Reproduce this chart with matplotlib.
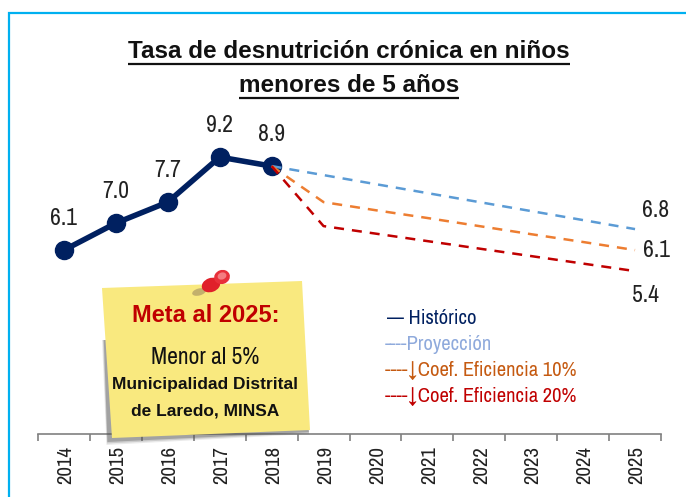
import logging
import matplotlib
matplotlib.use("Agg")
import matplotlib.pyplot as plt
from matplotlib.patches import Polygon, Ellipse

logging.getLogger("matplotlib.font_manager").setLevel(logging.ERROR)

years = [2014, 2015, 2016, 2017, 2018, 2019, 2020, 2021, 2022, 2023, 2024, 2025]
hist_years = [2014, 2015, 2016, 2017, 2018]
hist_vals = [6.1, 7.0, 7.7, 9.2, 8.9]
proy_years = [2018, 2019, 2020, 2021, 2022, 2023, 2024, 2025]
proy_vals = [8.9, 8.6, 8.3, 8.0, 7.7, 7.4, 7.1, 6.8]
coef10_vals = [8.9, 7.7, 7.43, 7.17, 6.9, 6.63, 6.37, 6.1]
coef20_vals = [8.9, 6.9, 6.65, 6.4, 6.15, 5.9, 5.65, 5.4]

plt.rcParams["font.family"] = ["Archivo Narrow", "Liberation Sans", "DejaVu Sans"]
TEXT = "#222222"
BOLD = ["Liberation Sans", "DejaVu Sans"]

W, H = 686, 497
fig = plt.figure(figsize=(W / 100, H / 100), dpi=100)

ax = fig.add_axes([38 / W, (H - 434) / H, 623 / W, 420 / H])
ax.set_xlim(2013.5, 2025.5)
ax.set_ylim(-0.03, 13.97)
ax.patch.set_alpha(0)
for s in ["top", "left", "right"]:
    ax.spines[s].set_visible(False)
ax.spines["bottom"].set_color("#808080")
ax.spines["bottom"].set_linewidth(1.2)
ax.set_yticks([])
ax.set_xticks([y - 0.5 for y in years] + [2025.5])
ax.set_xticklabels([])
ax.tick_params(axis="x", direction="out", length=5, width=1.2, color="#808080")
for y in years:
    ax.annotate(str(y), xy=(y, 0), xytext=(2, -13), textcoords="offset pixels",
                rotation=90, ha="center", va="top", fontsize=15, color=TEXT,
                annotation_clip=False)

dash = (0, (4, 3.2))
ax.plot(proy_years, proy_vals, color="#5B9BD5", lw=1.8, ls=dash, zorder=3)
ax.plot(proy_years, coef10_vals, color="#ED7D31", lw=1.8, ls=dash, zorder=3)
ax.plot(proy_years, coef20_vals, color="#C00000", lw=1.8, ls=dash, zorder=3)
ax.plot(hist_years, hist_vals, color="#002060", lw=4, marker="o", ms=13, zorder=2)

for x, v in zip(hist_years, hist_vals):
    ax.annotate(f"{v:.1f}", xy=(x, v), xytext=(0, 32), textcoords="offset pixels",
                ha="center", va="center", fontsize=17, color=TEXT)
ax.annotate("6.8", xy=(2025, 6.8), xytext=(21, 19), textcoords="offset pixels",
            ha="center", va="center", fontsize=17, color=TEXT)
ax.annotate("6.1", xy=(2025, 6.1), xytext=(21, 0), textcoords="offset pixels",
            ha="center", va="center", fontsize=17, color=TEXT)
ax.annotate("5.4", xy=(2025, 5.4), xytext=(10, -24), textcoords="offset pixels",
            ha="center", va="center", fontsize=17, color=TEXT)

# pixel overlay for frame, title, note, legend
ov = fig.add_axes([0, 0, 1, 1])
ov.set_xlim(0, W)
ov.set_ylim(H, 0)
ov.axis("off")
ov.patch.set_alpha(0)

ov.plot([9, 9, W], [H, 12.5, 12.5], color="#00B0F0", lw=1.6, solid_joinstyle="miter")

title_lines = [("Tasa de desnutrición crónica en niños", 52), ("menores de 5 años", 86)]
fig.canvas.draw()
for line, yp in title_lines:
    t = ov.text(349, yp, line, ha="center", va="center", fontsize=17.5, fontweight="bold",
                family=BOLD, color="#111111")
    bb = t.get_window_extent(fig.canvas.get_renderer())
    ov.plot([bb.x0, bb.x1], [yp + 11.5, yp + 11.5], color="#111111", lw=1.6, solid_capstyle="butt")

# sticky note, shadow built up from a few soft layers
for grow, a in [(5, 0.12), (3.5, 0.2), (2, 0.35)]:
    ov.add_patch(Polygon([(105 - grow * 0.6, 340), (300, 340), (309, 431 + grow * 0.6),
                          (108 - grow * 0.3, 440 + grow)],
                         closed=True, fc="#555555", ec="none", alpha=a, zorder=4))
ov.add_patch(Polygon([(102, 288), (302, 281), (310, 430), (112, 438)], closed=True,
                     fc="#F9E97F", ec="none", zorder=5))
ov.add_patch(Ellipse((199, 292), 14, 7, angle=-15, fc="#a08a60", ec="none", alpha=0.6, zorder=6))
ov.add_patch(Ellipse((211, 285), 19, 14, angle=-20, fc="#E0202A", ec="none", zorder=7))
ov.add_patch(Ellipse((222, 277), 16, 14, angle=-20, fc="#E8303A", ec="none", zorder=7))
ov.add_patch(Ellipse((222, 276), 9, 7, angle=-20, fc="#F47C80", ec="none", zorder=8))

ov.text(206, 316, "Meta al 2025:", ha="center", va="center", fontsize=17, fontweight="bold",
        family=BOLD, color="#C00000", zorder=9)
ov.text(205, 357, "Menor al 5%", ha="center", va="center", fontsize=17, color="#111111", zorder=9)
ov.text(205, 385, "Municipalidad Distrital", ha="center", va="center", fontsize=12.5,
        fontweight="bold", family=BOLD, color="#111111", zorder=9)
ov.text(205, 411, "de Laredo, MINSA", ha="center", va="center", fontsize=12.5,
        fontweight="bold", family=BOLD, color="#111111", zorder=9)

legend_rows = [("— Histórico", "#002060", 387, 318),
               ("----Proyección", "#8FAADC", 385, 344),
               ("----↓Coef. Eficiencia 10%", "#C55A11", 385, 371),
               ("----↓Coef. Eficiencia 20%", "#C00000", 385, 396)]
for label, col, xp, yp in legend_rows:
    ov.text(xp, yp, label, ha="left", va="center", fontsize=14.8, color=col, zorder=9)

fig.savefig("out.png", dpi=100)
plt.close(fig)
